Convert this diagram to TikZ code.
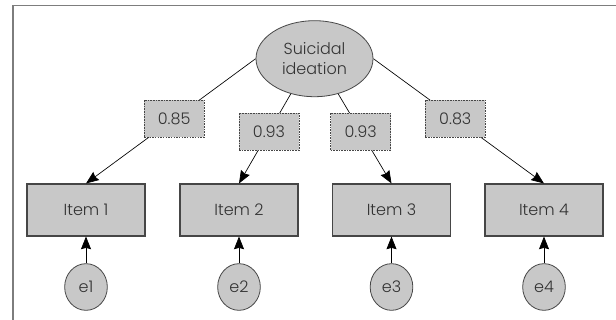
\documentclass[tikz,border=0pt]{standalone}
\usepackage{fontspec}
\setmainfont{Poppins}[UprightFont=* Light]
\usetikzlibrary{shapes,arrows.meta}

\definecolor{boxgray}{RGB}{200,200,200}
\definecolor{edgegray}{RGB}{70,70,70}
\definecolor{txtgray}{RGB}{50,50,50}
\definecolor{framegray}{RGB}{125,125,125}

\tikzset{
  latent/.style={ellipse, draw=edgegray, fill=boxgray, line width=0.6pt,
    minimum width=87.75pt, minimum height=57pt, inner sep=0pt,
    align=center, text=txtgray},
  observed/.style={rectangle, draw=edgegray, fill=boxgray, line width=0.8pt,
    minimum width=88.5pt, minimum height=39pt, text=txtgray},
  loading/.style={rectangle, draw=edgegray, fill=boxgray, line width=0.6pt,
    dash pattern=on 1.2pt off 0.8pt, minimum width=45pt, minimum height=27.75pt,
    text=txtgray},
  errvar/.style={ellipse, draw=edgegray, fill=boxgray, line width=0.6pt,
    minimum width=32pt, minimum height=35pt, inner sep=0pt, text=txtgray},
  link/.style={-{Stealth[length=9.5pt,width=7.5pt,inset=1pt]}, line width=0.5pt}
}

\begin{document}
\begin{tikzpicture}[x=0.75pt,y=0.75pt,yscale=-1,xscale=1,
    font=\fontsize{12}{15.5}\selectfont]
    \useasboundingbox (0,0) rectangle (616,320);

    % frame
    \draw [framegray, line width=1.1pt] (13,320) -- (13,5.5) -- (616,5.5);

    % latent factor
    \node [latent] (ideation) at (314.5,58.7) {Suicidal\\ideation};

    % items
    \node [observed] (item1) at (86,210) {Item 1};
    \node [observed] (item2) at (239,210) {Item 2};
    \node [observed] (item3) at (391.5,210) {Item 3};
    \node [observed] (item4) at (544,210) {Item 4};

    % error terms
    \node [errvar] (e1) at (86,287) {e1};
    \node [errvar] (e2) at (239,287) {e2};
    \node [errvar] (e3) at (391.5,287) {e3};
    \node [errvar] (e4) at (544,287) {e4};

    % loadings
    \draw [link] (ideation.west) -- node (w1) [loading, pos=0.48] {0.85} (item1.north);
    \draw [link] (ideation.236) -- node (w2) [loading, pos=0.42] {0.93} (item2.north);
    \draw [link] (ideation.304) -- node (w3) [loading, pos=0.42] {0.93} (item3.north);
    \draw [link] (ideation.east) -- node (w4) [loading, pos=0.48] {0.83} (item4.north);

    % residuals
    \foreach \i in {1,...,4}
        \draw [link] (e\i) -- (item\i);

\end{tikzpicture}
\end{document}
